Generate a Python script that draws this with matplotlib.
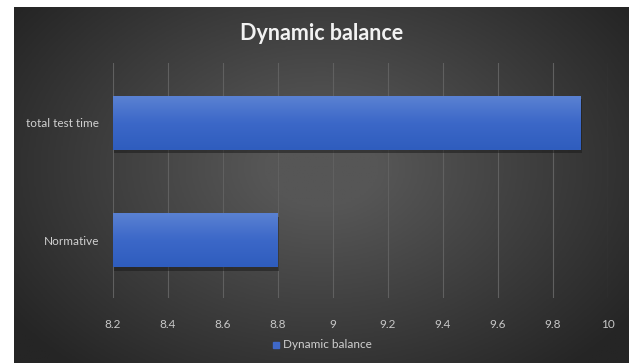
import numpy as np
import matplotlib.pyplot as plt
from matplotlib.patches import Rectangle
from matplotlib.colors import LinearSegmentedColormap

categories = ["Normative", "total test time"]
values = [8.8, 9.9]
series_name = "Dynamic balance"
x_ticks = [8.2, 8.4, 8.6, 8.8, 9.0, 9.2, 9.4, 9.6, 9.8, 10.0]
x_tick_labels = ["8.2", "8.4", "8.6", "8.8", "9", "9.2", "9.4", "9.6", "9.8", "10"]

plt.rcParams['font.family'] = ['Lato', 'DejaVu Sans']

W, H = 632, 363
fig = plt.figure(figsize=(W / 100, H / 100), dpi=100)
fig.patch.set_facecolor("white")

# dark panel with a soft radial glow
bg = fig.add_axes([14 / W, 0, (629 - 14) / W, (H - 7) / H])
bg.set_axis_off()
yy, xx = np.mgrid[0:1:200j, 0:1:340j]
r = np.sqrt(((xx - 0.5) / 0.62) ** 2 + ((yy - 0.45) / 0.75) ** 2)
shade = np.clip(1 - r, 0, 1)
glow = LinearSegmentedColormap.from_list("glow", ["#252525", "#565656"])
bg.imshow(shade, cmap=glow, aspect="auto", extent=[0, 1, 0, 1], vmin=0, vmax=0.85)
bg.set_xlim(0, 1)
bg.set_ylim(0, 1)

ax = fig.add_axes([113 / W, 1 - 298 / H, (608 - 113) / W, (298 - 63) / H])
ax.patch.set_alpha(0)
ypos = np.arange(len(categories))
bar_h = 0.46

bars = ax.barh(ypos, [v - x_ticks[0] for v in values], left=x_ticks[0],
               height=bar_h, color="#3f68c8", zorder=3)

# vertical gradient and drop shadow on each bar
grad = np.linspace(0, 1, 64).reshape(-1, 1)
bar_cmap = LinearSegmentedColormap.from_list("bar", ["#5b82d3", "#3c68c8", "#2f5dbe"])
for b in bars:
    x0, y0 = b.get_x(), b.get_y()
    w, h = b.get_width(), b.get_height()
    shadow = Rectangle((x0 + 0.004, y0 - 0.03), w, h, color="#181818", alpha=0.5,
                       zorder=2, linewidth=0)
    ax.add_patch(shadow)
    im = ax.imshow(grad, cmap=bar_cmap, aspect="auto", origin="upper",
                   extent=[x0, x0 + w, y0, y0 + h], zorder=4)
    im.set_clip_path(b)

ax.set_xlim(x_ticks[0], x_ticks[-1])
ax.set_ylim(-0.49, 1.51)
ax.set_xticks(x_ticks)
ax.set_xticklabels(x_tick_labels)
ax.set_yticks(ypos)
ax.set_yticklabels(categories)
ax.tick_params(axis="x", length=0, pad=15, labelsize=8.5, labelcolor="#c8c8c8")
ax.tick_params(axis="y", length=0, pad=10, labelsize=8.5, labelcolor="#d0d0d0")
for s in ax.spines.values():
    s.set_visible(False)
ax.grid(axis="x", color="#606060", linewidth=0.8, zorder=0)
ax.axvline(x_ticks[0], color="#8a8a8a", linewidth=1.2, zorder=1)

fig.text(322 / W, 1 - 33 / H, "Dynamic balance", ha="center", va="center",
         fontsize=15.5, fontweight="bold", color="#f2f2f2")

# legend
fig.patches.append(Rectangle((273 / W, 1 - 348 / H), 6 / W, 6 / H,
                             transform=fig.transFigure, color="#3f68c8",
                             figure=fig))
fig.text(283 / W, 1 - 345 / H, series_name, ha="left", va="center",
         fontsize=8.5, color="#d0d0d0")

fig.savefig("out.png", dpi=100, facecolor=fig.get_facecolor())
